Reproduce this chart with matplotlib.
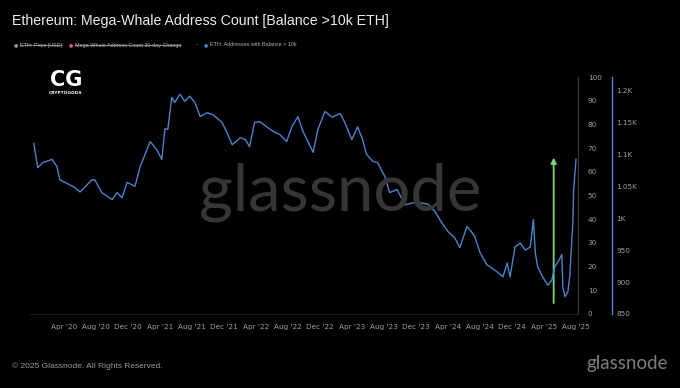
# mega_whale_chart.py
# Ethereum mega-whale address count (balance > 10k ETH), glassnode style

import pandas as pd
import matplotlib
matplotlib.use('Agg')
import matplotlib.pyplot as plt
import matplotlib.dates as mdates
from matplotlib.lines import Line2D
from matplotlib.ticker import FixedLocator, FuncFormatter

# Values
dates = [
    '2019-12-08', '2019-12-23', '2020-01-12', '2020-02-15', '2020-03-05', '2020-03-16',
    '2020-04-05', '2020-05-12', '2020-06-01', '2020-07-16', '2020-07-27', '2020-08-23',
    '2020-10-01', '2020-10-20', '2020-11-08', '2020-11-27', '2020-12-27', '2021-01-16',
    '2021-02-23', '2021-03-20', '2021-04-08', '2021-04-20', '2021-05-01', '2021-05-16',
    '2021-05-27', '2021-06-16', '2021-07-05', '2021-07-23', '2021-08-12', '2021-09-01',
    '2021-09-27', '2021-10-20', '2021-11-23', '2021-12-12', '2022-01-01', '2022-02-01',
    '2022-02-20', '2022-03-08', '2022-03-27', '2022-04-16', '2022-05-12', '2022-06-05',
    '2022-07-01', '2022-07-27', '2022-08-16', '2022-09-08', '2022-09-27', '2022-11-05',
    '2022-11-23', '2022-12-20', '2023-01-16', '2023-02-16', '2023-03-05', '2023-04-01',
    '2023-04-23', '2023-05-12', '2023-05-27', '2023-06-20', '2023-07-08', '2023-08-05',
    '2023-08-23', '2023-09-20', '2023-10-20', '2023-11-20', '2023-12-16', '2024-01-16',
    '2024-02-12', '2024-03-08', '2024-04-01', '2024-04-27', '2024-05-16', '2024-06-12',
    '2024-06-23', '2024-07-12', '2024-08-01', '2024-08-27', '2024-10-05', '2024-10-27',
    '2024-11-12', '2024-11-23', '2024-12-12', '2025-01-01', '2025-01-20', '2025-02-08',
    '2025-02-20', '2025-02-27', '2025-03-08', '2025-03-27', '2025-04-16', '2025-05-01',
    '2025-05-12', '2025-05-23', '2025-06-08', '2025-06-12', '2025-06-20', '2025-07-01',
    '2025-07-08', '2025-07-20', '2025-07-23', '2025-08-01',
]
whale_addresses = [
    1117, 1079, 1087, 1092, 1081, 1060,
    1056, 1048, 1041, 1060, 1060, 1040,
    1029, 1040, 1032, 1056, 1050, 1081,
    1120, 1107, 1092, 1140, 1139, 1189,
    1181, 1194, 1183, 1191, 1181, 1159,
    1165, 1162, 1150, 1134, 1115, 1126,
    1123, 1112, 1150, 1151, 1143, 1136,
    1131, 1120, 1143, 1159, 1136, 1103,
    1139, 1167, 1158, 1164, 1150, 1123,
    1143, 1123, 1100, 1089, 1087, 1065,
    1040, 1045, 1021, 1024, 1024, 1022,
    1010, 993, 979, 969, 954, 987,
    982, 971, 946, 927, 916, 908,
    930, 908, 955, 961, 950, 955,
    998, 946, 924, 908, 895, 903,
    924, 930, 943, 892, 877, 885,
    908, 993, 1045, 1092,
]

# green arrow annotation (left 0-100 scale)
arrow_date = '2025-05-08'
arrow_from = 4.6
arrow_to = 66

left_ticks = list(range(0, 101, 10))
right_ticks = [850, 900, 950, 1000, 1050, 1100, 1150, 1200]
tick_months = pd.date_range('2020-04-01', '2025-08-01', freq='4MS')

legend_items = [
    ('ETH: Price [USD]', '#9a9a9a', True),
    ('Mega-Whale Address Count 30-day Change', '#e0558a', True),
    ('ETH: Addresses with Balance > 10k', '#4a7fc9', False),
]

W, H = 680, 388
BG = '#000000'
LINE = '#4d82cc'
TICK = '#a0a0a0'

x = pd.to_datetime(dates)

fig = plt.figure(figsize=(W / 100, H / 100), dpi=100, facecolor=BG)
ax = fig.add_axes([30 / W, 1 - 314 / H, 548 / W, 237 / H], facecolor=BG)
ax2 = ax.twinx()

def fx(px):
    return px / W

def fy(py):
    return 1 - py / H

# watermark behind everything
fig.text(fx(340), fy(210), 'glassnode', fontsize=47, color='#363636',
         family='Lato', ha='center', va='baseline', zorder=0)
ax.patch.set_alpha(0)
ax2.patch.set_alpha(0)

ax2.plot(x, whale_addresses, color=LINE, linewidth=1.0, zorder=3)

ax.annotate('', xy=(pd.Timestamp(arrow_date), arrow_to),
            xytext=(pd.Timestamp(arrow_date), arrow_from),
            arrowprops=dict(arrowstyle='-|>', color='#7fd17f', lw=1.3,
                            mutation_scale=8, shrinkA=0, shrinkB=0))

# x axis: 1 px ~ 3.805 days, Apr '20 at px 64
days_per_px = (tick_months[-1] - tick_months[0]).days / 512
left = tick_months[0] - pd.Timedelta(days=34 * days_per_px)
right = tick_months[-1] + pd.Timedelta(days=2 * days_per_px)
ax.set_xlim(left, right)
ax.set_xticks(tick_months)
ax.xaxis.set_major_formatter(mdates.DateFormatter("%b '%y"))

ax.set_ylim(0, 100)
ax.yaxis.tick_right()
ax.yaxis.set_major_locator(FixedLocator(left_ticks))
ax2.set_ylim(850, 850 + 237 / (223.6 / 350))
ax2.yaxis.set_major_locator(FixedLocator(right_ticks))

def k_fmt(v, pos):
    if v >= 1000:
        s = f'{v / 1000:.2f}'.rstrip('0').rstrip('.')
        return s + 'K'
    return f'{v:.0f}'

ax2.yaxis.set_major_formatter(FuncFormatter(k_fmt))

for a in (ax, ax2):
    for s in a.spines.values():
        s.set_visible(False)
ax.spines['right'].set_visible(True)
ax.spines['right'].set_color('#3a3a3a')
ax.spines['right'].set_linewidth(0.8)
ax.spines['bottom'].set_visible(True)
ax.spines['bottom'].set_color('#1c1c1c')
ax2.spines['right'].set_visible(True)
ax2.spines['right'].set_position(('outward', 24.5))
ax2.spines['right'].set_color(LINE)
ax2.spines['right'].set_linewidth(1.0)

ax.tick_params(axis='x', length=0, pad=7, labelsize=5.2, labelcolor=TICK)
ax.tick_params(axis='y', length=0, pad=7, labelsize=5.2, labelcolor=TICK)
ax2.tick_params(axis='y', length=0, pad=3, labelsize=5.2, labelcolor=TICK)
for lab in ax.get_yticklabels() + ax2.get_yticklabels():
    lab.set_horizontalalignment('left')

# title and legend row
fig.text(fx(12), fy(21), 'Ethereum: Mega-Whale Address Count [Balance >10k ETH]',
         fontsize=10.2, color='#ececec', family='Liberation Sans', va='center')

legend_x = [16, 71, 206]
texts = []
for (label, col, off), lx in zip(legend_items, legend_x):
    fig.text(fx(lx), fy(45), '\u25CF', fontsize=3.5, color=col, ha='center', va='center')
    t = fig.text(fx(lx + 4), fy(45), label, fontsize=3.9, color='#b5b5b5',
                 family='Liberation Sans', va='center')
    texts.append((t, off))
fig.text(fx(196), fy(45), '-', fontsize=4.2, color='#b5b5b5', va='center')

fig.canvas.draw()
renderer = fig.canvas.get_renderer()
for t, off in texts:
    if off:
        bb = t.get_window_extent(renderer)
        fig.add_artist(Line2D([bb.x0 / W, bb.x1 / W], [fy(45), fy(45)],
                              transform=fig.transFigure, color='#b5b5b5', lw=0.5))

# logo
fig.text(fx(66), fy(80), 'CG', fontsize=15, color='white', fontweight='bold',
         family='DejaVu Sans', ha='center', va='center')
fig.text(fx(66), fy(93), 'CRYPTOGODS', fontsize=3.2, color='white', fontweight='bold',
         ha='center', va='center')

# footer
fig.text(fx(12), fy(366), '\u00A9 2025 Glassnode. All Rights Reserved.', fontsize=6,
         color='#9a9a9a', family='Liberation Sans', va='center')
fig.text(fx(668), fy(364), 'glassnode', fontsize=13.5, color='#7e7e7e',
         family='Lato', ha='right', va='center')

fig.savefig('out.png', dpi=100, facecolor=BG)
